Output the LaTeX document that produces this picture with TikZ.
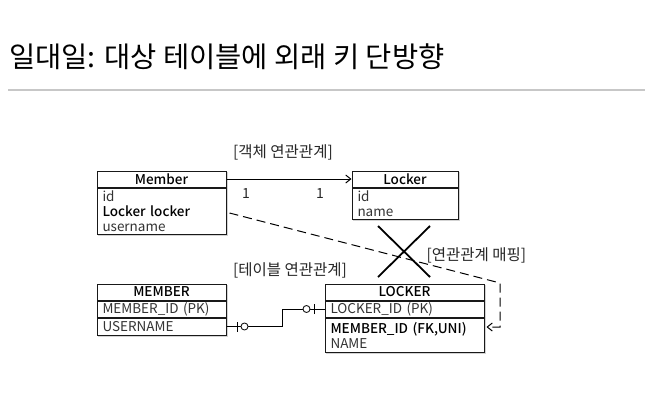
\documentclass[tikz,border=0pt]{standalone}
\usepackage{fontspec}
\setmainfont{Noto Sans CJK KR}[BoldFont={Noto Sans CJK KR Medium}]
\usetikzlibrary{positioning,arrows.meta,shadows,fit,backgrounds}

\tikzset{
  boxhead/.style={draw=black!90, line width=1pt, fill=white, inner xsep=3pt, inner ysep=0pt,
    align=center, font=\fontsize{13.5}{15}\selectfont\bfseries},
  boxrow/.style={draw=black!90, line width=1pt, fill=white, inner xsep=5.5pt, inner ysep=0pt,
    align=left, text=black!80, font=\fontsize{13.5}{15}\selectfont},
  boxshade/.style={inner sep=0pt, fill=white, drop shadow={opacity=0.35, shadow xshift=1.2pt, shadow yshift=-1.5pt}},
  relabel/.style={font=\fontsize{15.5}{17}\selectfont, text=black!85},
  zeroone/.style={circle, draw=black!90, line width=0.9pt, fill=white, inner sep=0pt, minimum size=7pt},
}

\begin{document}
\begin{tikzpicture}[x=1pt, y=1pt]
    \useasboundingbox (0,0) rectangle (645,-418);

    % Title and rule
    \node[anchor=west, inner sep=0pt, font=\fontsize{28.5}{31}\selectfont] (title) at (9,-57) {일대일: 대상 테이블에 외래 키 단방향};
    \draw[black!22, line width=1.5pt] (8,-90) -- (645,-90);

    % Object model: Member -> Locker
    \node[boxhead, text width=123pt, minimum height=16pt] (mh) at (161.5,-179) {Member};
    \node[boxrow, text width=118pt, minimum height=46pt, below=0pt of mh] (mb)
        {id\\ \textbf{\color{black}Locker locker}\\ username};
    \node[boxhead, text width=100pt, minimum height=16pt] (lh) at (405,-179) {Locker};
    \node[boxrow, text width=95pt, minimum height=31pt, below=0pt of lh] (lb)
        {id\\ name};

    % Table model: MEMBER --- LOCKER
    \node[boxhead, text width=123pt, minimum height=16pt] (th) at (161.5,-292) {MEMBER};
    \node[boxrow, text width=118pt, minimum height=16pt, below=0pt of th] (t1) {MEMBER\_ID (PK)};
    \node[boxrow, text width=118pt, minimum height=17pt, below=0pt of t1] (t2) {USERNAME};
    \node[boxhead, text width=153pt, minimum height=16pt] (kh) at (404.5,-292) {LOCKER};
    \node[boxrow, text width=148pt, minimum height=16pt, below=0pt of kh] (k1) {LOCKER\_ID (PK)};
    \node[boxrow, text width=148pt, minimum height=34pt, below=0pt of k1] (k2)
        {\textbf{\color{black}MEMBER\_ID (FK,UNI)}\\ NAME};

    % Shadows behind the boxes
    \begin{scope}[on background layer]
        \node[boxshade, fit=(mh)(mb)] (mshade) {};
        \node[boxshade, fit=(lh)(lb)] (lshade) {};
        \node[boxshade, fit=(th)(t2)] (tshade) {};
        \node[boxshade, fit=(kh)(k2)] (kshade) {};
    \end{scope}

    % Reference Member.locker -> Locker
    \draw[line width=1pt, -{Straight Barb[length=5pt, width=8pt]}] (mh.east) -- (lh.west);
    \node[relabel, font=\fontsize{14}{15}\selectfont] (one1) at (246,-194) {1};
    \node[relabel, font=\fontsize{14}{15}\selectfont] (one2) at (320,-194) {1};
    \node[relabel] (objlabel) at (283,-152) {[객체 연관관계]};

    % Foreign key join column, zero-or-one at both ends
    \coordinate (step) at (282,-300);
    \draw[line width=1pt] (t2.east) -- (t2.east -| step) -- (k1.west -| step) -- (k1.west);
    \node[zeroone] (zm) at ([xshift=18pt]t2.east) {};
    \draw[line width=1pt] ([xshift=11pt, yshift=-5pt]t2.east) -- ([xshift=11pt, yshift=5pt]t2.east);
    \node[zeroone] (zk) at ([xshift=-18pt]k1.west) {};
    \draw[line width=1pt] ([xshift=-10pt, yshift=-5pt]k1.west) -- ([xshift=-10pt, yshift=5pt]k1.west);
    \node[relabel] (tablabel) at (290,-270) {[테이블 연관관계]};

    % Mapping: Member.locker -> LOCKER.MEMBER_ID
    \coordinate (bend) at (500,-283);
    \draw[line width=1pt, dash pattern=on 9pt off 5pt, -{Straight Barb[length=5pt, width=8pt]}]
        ([xshift=3pt, yshift=-2pt]mb.east) -- (bend) |- ([xshift=2pt, yshift=8pt]k2.east);
    \node[relabel, anchor=west] (maplabel) at (423,-255) {[연관관계 매핑]};

    % Cross: no reference from Locker back to Member
    \draw[line width=1.8pt] (378,-226) -- (430,-277);
    \draw[line width=1.8pt] (430,-226) -- (378,-277);
\end{tikzpicture}
\end{document}
